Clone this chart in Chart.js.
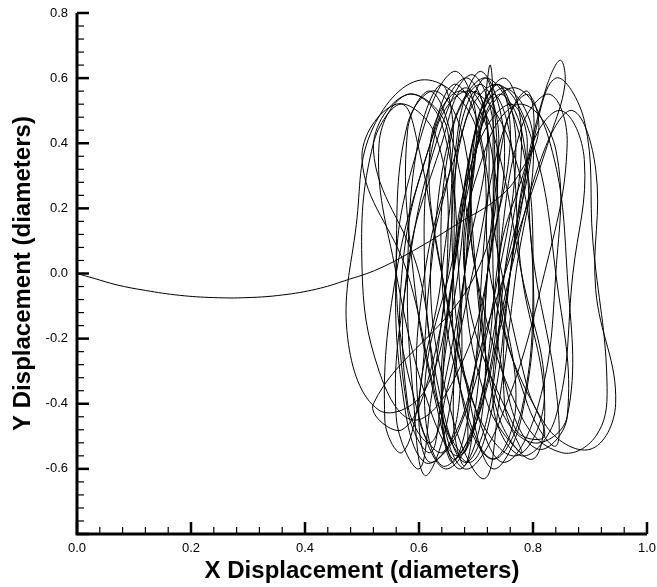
<!DOCTYPE html>
<html>
<head>
<meta charset="utf-8">
<script src="https://cdn.jsdelivr.net/npm/chart.js@4.4.1/dist/chart.umd.min.js"></script>
<style>
  html, body { margin: 0; padding: 0; background: #fff; }
  #wrap { width: 657px; height: 587px; }
</style>
</head>
<body>
<div id="wrap"><canvas id="myChart"></canvas></div>
<script>
// initial drift of the cylinder before it locks in
const approachX = [0.0, 0.03, 0.07, 0.12, 0.18, 0.24, 0.30, 0.36, 0.42, 0.47, 0.53, 0.60, 0.67, 0.74, 0.777]
const approachY = [0.0, -0.015, -0.035, -0.052, -0.067, -0.074, -0.074, -0.066, -0.048, -0.022, 0.015, 0.08, 0.155, 0.233, 0.31]

// orbit points, one oscillation cycle per row
const orbitX = [
  0.81, 0.79, 0.75, 0.70, 0.65, 0.62, 0.58,
  0.58, 0.64, 0.68, 0.73, 0.78, 0.82, 0.77, 0.70,
  0.64, 0.60, 0.57, 0.52, 0.50, 0.53, 0.59, 0.66,
  0.72, 0.73, 0.725, 0.71, 0.66, 0.61, 0.64, 0.70,
  0.76, 0.82, 0.87, 0.91, 0.91, 0.945, 0.90, 0.82,
  0.73, 0.70, 0.61, 0.52, 0.49, 0.475, 0.53, 0.61,
  0.66, 0.70, 0.75, 0.80, 0.77, 0.74, 0.715, 0.66,
  0.62, 0.66, 0.64, 0.60, 0.58, 0.59, 0.61, 0.65,
  0.68, 0.70, 0.74, 0.78, 0.80, 0.84, 0.84, 0.79,
  0.74, 0.79, 0.825, 0.848, 0.856, 0.83, 0.76, 0.69, 0.68, 0.64,
  0.58, 0.50, 0.56, 0.63, 0.65, 0.62, 0.57, 0.52,
  0.70, 0.74, 0.71, 0.66, 0.64, 0.68, 0.73, 0.78,
  0.80, 0.78, 0.72, 0.66, 0.62, 0.60, 0.57, 0.54,
  0.56, 0.62, 0.66, 0.70, 0.74, 0.79, 0.82, 0.77,
  0.68, 0.72, 0.78, 0.84, 0.84, 0.81, 0.75, 0.70,
  0.64, 0.62, 0.67, 0.72, 0.74, 0.71, 0.65, 0.60,
  0.56, 0.60, 0.66, 0.70, 0.68, 0.72, 0.78, 0.75,
  0.76, 0.80, 0.84, 0.89, 0.905, 0.93, 0.91, 0.85, 0.78,
  0.70, 0.68, 0.63, 0.58, 0.56, 0.57, 0.61, 0.67,
  0.74, 0.77, 0.74, 0.70, 0.66, 0.64, 0.68, 0.74,
  0.82, 0.86, 0.83, 0.78, 0.74, 0.71, 0.67, 0.62,
  0.56, 0.53, 0.58, 0.64, 0.67, 0.67, 0.64, 0.60,
  0.61, 0.67, 0.715, 0.735, 0.74, 0.77, 0.73, 0.68,
  0.66, 0.70, 0.76, 0.79, 0.76, 0.73, 0.78, 0.84,
  0.87, 0.89, 0.85, 0.80, 0.76, 0.73, 0.69, 0.64,
  0.60, 0.52, 0.58, 0.65, 0.64, 0.60, 0.62, 0.68,
  0.72, 0.75, 0.71, 0.67, 0.66, 0.69, 0.73, 0.78,
  0.80, 0.76, 0.69, 0.63, 0.61, 0.64, 0.68, 0.72,
  0.75, 0.78, 0.75, 0.70, 0.70, 0.74, 0.80, 0.86,
  0.86, 0.83, 0.77, 0.71, 0.68, 0.64, 0.62, 0.58,
  0.57, 0.62, 0.68, 0.72, 0.71, 0.69, 0.66, 0.64,
  0.66, 0.70, 0.73, 0.76, 0.78, 0.82, 0.80, 0.74,
  0.70, 0.66, 0.62, 0.58, 0.59, 0.63, 0.67, 0.71,
  0.72, 0.76, 0.74, 0.70, 0.67, 0.64, 0.66, 0.70,
  0.75, 0.80, 0.79, 0.75, 0.73, 0.76, 0.81, 0.86,
  0.84, 0.80, 0.74, 0.68, 0.65, 0.62, 0.60, 0.56,
  0.58, 0.63, 0.69, 0.73, 0.72, 0.70, 0.68, 0.66,
  0.68, 0.72, 0.70, 0.67, 0.66
]
const orbitY = [
  0.44, 0.55, 0.45, 0.05, -0.35, -0.52, -0.40,
  0.02, 0.40, 0.57, 0.43, 0.00, -0.38, -0.56, -0.42,
  0.00, 0.38, 0.52, 0.40, 0.02, -0.30, -0.45, -0.33,
  0.00, 0.42, 0.64, 0.46, 0.05, -0.35, -0.59, -0.46,
  0.00, 0.38, 0.50, 0.32, -0.05, -0.40, -0.54, -0.46,
  -0.05, 0.45, 0.595, 0.45, 0.15, -0.20, -0.42, -0.36,
  0.00, 0.44, 0.57, 0.42, 0.00, -0.40, -0.63, -0.45,
  0.00, 0.40, 0.58, 0.42, 0.00, -0.38, -0.62, -0.45,
  0.00, 0.38, 0.55, 0.44, 0.05, -0.35, -0.53, -0.40,
  0.00, 0.35, 0.58, 0.655, 0.58, 0.42, 0.05, -0.35, -0.55, -0.44,
  0.00, 0.35, 0.52, 0.42, 0.05, -0.30, -0.48, -0.40,
  0.00, 0.40, 0.58, 0.45, 0.00, -0.40, -0.57, -0.42,
  0.00, 0.40, 0.60, 0.46, 0.00, -0.38, -0.55, -0.45,
  0.00, 0.40, 0.58, 0.48, 0.05, -0.35, -0.50, -0.48,
  0.00, 0.40, 0.52, 0.38, 0.00, -0.40, -0.58, -0.42,
  0.00, 0.40, 0.56, 0.44, 0.00, -0.40, -0.60, -0.44,
  0.00, 0.40, 0.62, 0.48, 0.00, -0.40, -0.55, -0.40,
  0.00, 0.40, 0.60, 0.47, 0.10, -0.35, -0.50, -0.55, -0.44,
  0.00, 0.40, 0.56, 0.46, 0.05, -0.35, -0.58, -0.48,
  0.00, 0.40, 0.58, 0.45, 0.00, -0.40, -0.60, -0.46,
  0.00, 0.40, 0.55, 0.45, 0.05, -0.38, -0.56, -0.42,
  0.00, 0.40, 0.55, 0.46, 0.00, -0.40, -0.55, -0.44,
  0.00, 0.40, 0.60, 0.45, 0.00, -0.40, -0.57, -0.42,
  0.00, 0.38, 0.52, 0.40, 0.00, -0.40, -0.56, -0.44,
  0.00, 0.35, 0.50, 0.40, 0.00, -0.40, -0.58, -0.44,
  0.00, 0.38, 0.55, 0.44, 0.00, -0.40, -0.58, -0.42,
  0.00, 0.40, 0.62, 0.46, 0.00, -0.40, -0.60, -0.44,
  0.00, 0.40, 0.56, 0.44, 0.00, -0.40, -0.58, -0.44,
  0.00, 0.42, 0.60, 0.45, 0.00, -0.40, -0.52, -0.44,
  0.00, 0.40, 0.57, 0.45, 0.00, -0.38, -0.55, -0.42,
  0.00, 0.40, 0.60, 0.46, 0.00, -0.40, -0.58, -0.44,
  0.00, 0.40, 0.55, 0.42, 0.00, -0.38, -0.57, -0.44,
  0.00, 0.40, 0.56, 0.44, 0.00, -0.40, -0.60, -0.44,
  0.00, 0.40, 0.58, 0.45, 0.02, -0.38, -0.57, -0.44,
  0.00, 0.40, 0.56, 0.44, 0.00, -0.40, -0.54, -0.44,
  0.00, 0.40, 0.58, 0.46, 0.00, -0.40, -0.60, -0.44,
  0.00, 0.40, 0.61, 0.46, 0.00, -0.40, -0.59, -0.44,
  0.00, 0.40, 0.56, 0.42, 0.00
]

const xTicks = [0.0, 0.2, 0.4, 0.6, 0.8, 1.0]
const yTicks = [-0.8, -0.6, -0.4, -0.2, 0.0, 0.2, 0.4, 0.6, 0.8]

const pathX = approachX.concat(orbitX)
const pathY = approachY.concat(orbitY)
const points = pathX.map((x, i) => ({x: x, y: pathY[i]}))

// axis lines + inward ticks (major every 0.2, minor every 0.04)
const axisTicks = {
  id: 'axisTicks',
  afterDraw(chart) {
    const ctx = chart.ctx
    const xs = chart.scales.x, ys = chart.scales.y
    const left = xs.getPixelForValue(0), bottom = ys.getPixelForValue(-0.8)
    ctx.save()
    ctx.strokeStyle = '#000'
    ctx.lineCap = 'butt'
    for (let i = 0; i <= 25; i++) {
      const px = xs.getPixelForValue(i * 0.04)
      const major = i % 5 == 0
      ctx.lineWidth = major ? 2.5 : 1.2
      ctx.beginPath()
      ctx.moveTo(px, bottom)
      ctx.lineTo(px, bottom - (major ? 12 : 7))
      ctx.stroke()
    }
    for (let i = 0; i <= 40; i++) {
      const py = ys.getPixelForValue(-0.8 + i * 0.04)
      const major = i % 5 == 0
      ctx.lineWidth = major ? 2.5 : 1.2
      ctx.beginPath()
      ctx.moveTo(left, py)
      ctx.lineTo(left + (major ? 12 : 7), py)
      ctx.stroke()
    }
    ctx.lineWidth = 3
    ctx.beginPath()
    ctx.moveTo(left, ys.getPixelForValue(0.8))
    ctx.lineTo(left, bottom)
    ctx.lineTo(xs.getPixelForValue(1.0), bottom)
    ctx.stroke()
    ctx.restore()
  }
}

const tickFont = {family: '"Liberation Sans", Arial, sans-serif', size: 13}
const titleFont = {family: '"Liberation Sans", Arial, sans-serif', size: 24, weight: 'bold'}

new Chart(document.getElementById('myChart'), {
  type: 'scatter',
  data: {
    datasets: [{
      data: points,
      showLine: true,
      borderColor: '#000',
      borderWidth: 1,
      pointRadius: 0,
      tension: 0.4,
      fill: false
    }]
  },
  options: {
    responsive: true,
    maintainAspectRatio: false,
    animation: false,
    events: [],
    layout: {padding: {left: 0, right: 10, top: 13, bottom: 0}},
    plugins: {legend: {display: false}, tooltip: {enabled: false}},
    scales: {
      x: {
        type: 'linear', min: 0, max: 1,
        afterBuildTicks: (s) => { s.ticks = xTicks.map(v => ({value: v})) },
        afterFit: (s) => { s.height = 53; s.paddingLeft = 0; s.paddingRight = 0 },
        grid: {display: false, drawTicks: false},
        border: {display: false},
        ticks: {color: '#000', font: tickFont, padding: 7, maxRotation: 0,
                callback: (v) => v.toFixed(1)},
        title: {display: true, text: 'X Displacement (diameters)', color: '#000',
                font: titleFont, padding: {top: 0, bottom: 1}}
      },
      y: {
        type: 'linear', min: -0.8, max: 0.8,
        afterBuildTicks: (s) => { s.ticks = yTicks.map(v => ({value: v})) },
        afterFit: (s) => { s.width = 77; s.paddingTop = 0; s.paddingBottom = 0 },
        grid: {display: false, drawTicks: false},
        border: {display: false},
        ticks: {color: '#000', font: tickFont, padding: 9,
                callback: (v) => (v < -0.7 ? '' : v.toFixed(1))},
        title: {display: true, text: 'Y Displacement (diameters)', color: '#000',
                font: titleFont, padding: {top: 9, bottom: 0}}
      }
    }
  },
  plugins: [axisTicks]
})
</script>
</body>
</html>
